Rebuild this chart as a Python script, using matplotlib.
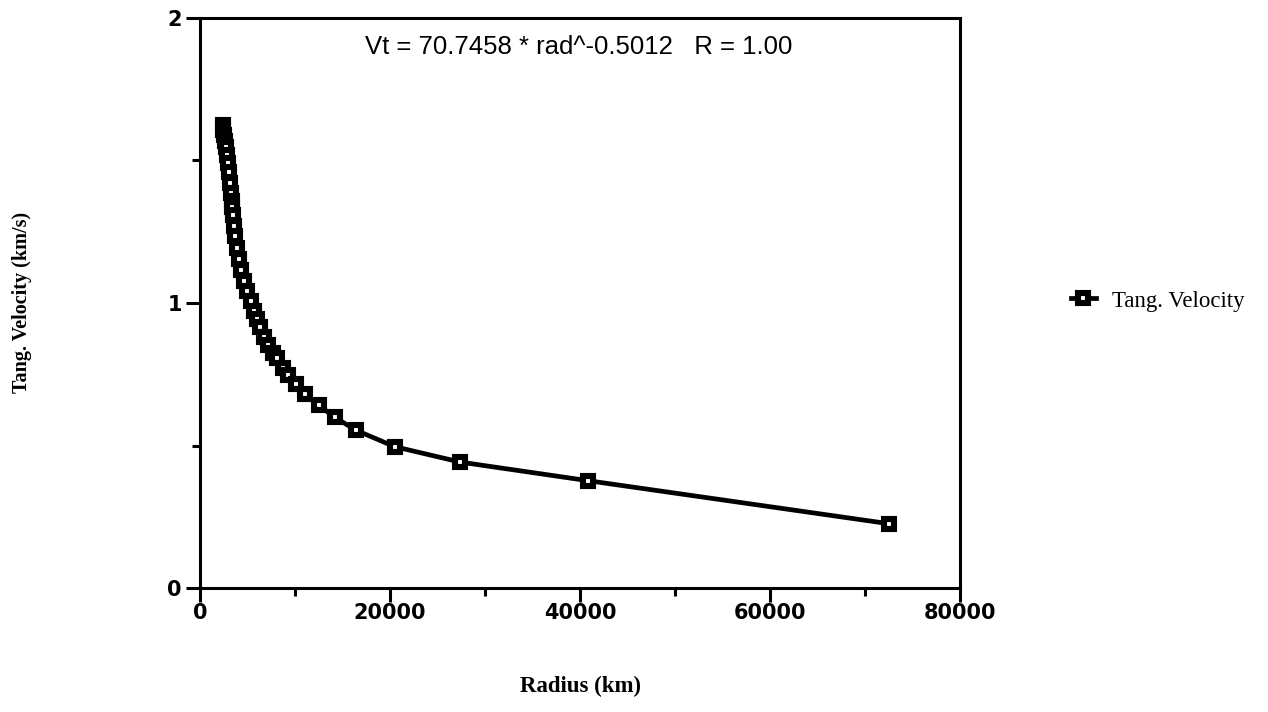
import matplotlib
matplotlib.use("Agg")
import matplotlib.pyplot as plt
from matplotlib.ticker import MultipleLocator

# --- DATA ---
radius_km = [2400, 2420, 2530, 2630, 2740, 2840, 2950, 3050, 3160, 3260,
             3370, 3400, 3470, 3580, 3680, 3890, 4110, 4320, 4630, 4950,
             5370, 5680, 6000, 6320, 6740, 7160, 7680, 8100, 8740, 9260,
             10100, 11050, 12500, 14200, 16400, 20500, 27400, 40800, 72500]
tang_velocity = [1.624, 1.607, 1.589, 1.568, 1.547, 1.519, 1.490, 1.458, 1.419, 1.384,
                 1.359, 1.335, 1.307, 1.271, 1.236, 1.194, 1.155, 1.117, 1.078, 1.043,
                 1.008, 0.973, 0.945, 0.914, 0.879, 0.851, 0.826, 0.806, 0.773, 0.748,
                 0.717, 0.679, 0.641, 0.599, 0.554, 0.496, 0.442, 0.377, 0.226]
x_ticks = [0, 20000, 40000, 60000, 80000]
y_ticks = [0, 1, 2]
fit_text = "Vt = 70.7458 * rad^-0.5012   R = 1.00"

SANS = ["DejaVu Sans"]
SERIF = ["Liberation Serif", "DejaVu Serif"]

fig = plt.figure(figsize=(12.68, 7.12), dpi=100)
ax = fig.add_axes([0.1577, 0.174, 0.5993, 0.801])

# photocopied open squares look almost solid black, so use a thick edge
ax.plot(radius_km, tang_velocity, color="black", linewidth=3.4,
        marker="s", markersize=7, markerfacecolor="white",
        markeredgecolor="black", markeredgewidth=4.4,
        label="Tang. Velocity", clip_on=False)

ax.set_xlim(0, 80000)
ax.set_ylim(0, 2)
ax.set_xticks(x_ticks)
ax.set_yticks(y_ticks)
ax.xaxis.set_minor_locator(MultipleLocator(10000))
ax.yaxis.set_minor_locator(MultipleLocator(0.5))

for side in ax.spines.values():
    side.set_linewidth(2.2)

ax.tick_params(which="major", direction="out", length=10, width=2.2)
ax.tick_params(which="minor", direction="out", length=6, width=2.2)
ax.tick_params(axis="x", which="major", pad=1)
ax.tick_params(axis="y", which="major", pad=3)
for lbl in ax.get_xticklabels() + ax.get_yticklabels():
    lbl.set_fontfamily(SANS)
    lbl.set_fontsize(15)
    lbl.set_fontweight("bold")

# fit equation at the top of the plot
ax.text(0.499, 0.949, fit_text, transform=ax.transAxes, ha="center", va="center",
        fontsize=18.5, family=["Liberation Sans", "DejaVu Sans"])

# axis titles sit well away from the axes
fig.text(580 / 1268, 1 - 686 / 712, "Radius (km)", ha="center", va="center",
         fontsize=16.5, fontweight="bold", family=SERIF)
fig.text(22 / 1268, 1 - 302 / 712, "Tang. Velocity (km/s)", ha="center", va="center",
         rotation=90, fontsize=14.5, fontweight="bold", family=SERIF)

leg = ax.legend(loc="center left", bbox_to_anchor=(1050 / 1268, 1 - 301 / 712),
                bbox_transform=fig.transFigure, frameon=False,
                handlelength=1.1, handletextpad=0.7,
                prop={"family": SERIF, "size": 16.5})

plt.savefig("out.png", dpi=100)
